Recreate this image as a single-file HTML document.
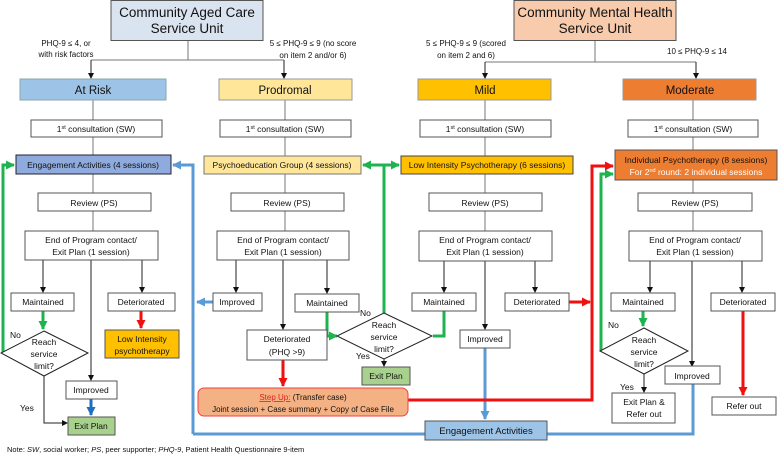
<!DOCTYPE html>
<html><head><meta charset="utf-8"><style>
html,body{margin:0;padding:0;background:#fff;width:778px;height:455px;overflow:hidden}
svg text{font-family:"Liberation Sans",sans-serif;fill:#111}
</style></head><body>
<svg width="778" height="455" viewBox="0 0 778 455" xmlns="http://www.w3.org/2000/svg">
<defs>
<marker id="ak" markerWidth="6" markerHeight="6" refX="5" refY="3" orient="auto" markerUnits="userSpaceOnUse"><path d="M0,0 L6,3 L0,6z" fill="#111"/></marker>
<marker id="ag" markerWidth="9" markerHeight="9" refX="8" refY="4.5" orient="auto" markerUnits="userSpaceOnUse"><path d="M0,0 L9,4.5 L0,9z" fill="#1db34f"/></marker>
<marker id="ar" markerWidth="9" markerHeight="9" refX="8" refY="4.5" orient="auto" markerUnits="userSpaceOnUse"><path d="M0,0 L9,4.5 L0,9z" fill="#f01010"/></marker>
<marker id="ab" markerWidth="9" markerHeight="9" refX="8" refY="4.5" orient="auto" markerUnits="userSpaceOnUse"><path d="M0,0 L9,4.5 L0,9z" fill="#5b9bd5"/></marker>
<marker id="ad" markerWidth="9" markerHeight="9" refX="8" refY="4.5" orient="auto" markerUnits="userSpaceOnUse"><path d="M0,0 L9,4.5 L0,9z" fill="#1f6fc0"/></marker>
</defs>

<g stroke="#777" stroke-width="1" fill="none">
<path d="M188,40 V60 M91,60 H284"/>
<path d="M595,40 V62 M485,62 H696"/>
<path d="M93,100 V120 M93,137 V156 M93,174 V193 M93,211 V231"/>
<path d="M285,100 V120 M285,137 V156 M285,174 V193 M285,211 V231"/>
<path d="M485,100 V120 M485,137 V156 M485,174 V193 M485,211 V231"/>
<path d="M693,100 V120 M693,137 V150 M693,180 V193 M693,211 V231"/>
</g>
<g stroke="#222" stroke-width="1" fill="none" marker-end="url(#ak)">
<path d="M91,60 V78"/><path d="M284,60 V78"/><path d="M485,62 V78"/><path d="M696,62 V78"/>
<path d="M43,260 V292"/><path d="M91,260 V380"/><path d="M142,260 V292"/>
<path d="M236,260 V292"/><path d="M283,260 V329"/><path d="M327,260 V293"/>
<path d="M444,260 V292"/><path d="M485,260 V329"/><path d="M535,260 V292"/>
<path d="M650,260 V292"/><path d="M692,260 V366"/><path d="M742,260 V292"/>
<path d="M44,376 V423 H67"/>
<path d="M384,359 V366"/>
<path d="M644,374 V392"/>
</g>

<g stroke="#5b9bd5" stroke-width="3" fill="none">
<path d="M193,434 V165 H173" marker-end="url(#ab)"/>
<path d="M213,302 H197" marker-end="url(#ab)"/>
<path d="M193,434 H425"/>
<path d="M547,434 H693 V383"/>
<path d="M485,348 V419" marker-end="url(#ab)"/>
</g>
<path d="M91,399 V415" stroke="#1f6fc0" stroke-width="3" fill="none" marker-end="url(#ad)"/>

<g stroke="#1db34f" stroke-width="3" fill="none">
<path d="M3,353 V165 H14" marker-end="url(#ag)"/>
<path d="M43,311 V329" marker-end="url(#ag)"/>
<path d="M384,313 V165 H363" marker-end="url(#ag)"/>
<path d="M384,165 H399" marker-end="url(#ag)"/>
<path d="M327,312 V336 H337" marker-end="url(#ag)"/>
<path d="M444,311 V336 H433"/>
<path d="M601,351 V174 H613" marker-end="url(#ag)"/>
<path d="M643,311 V326" marker-end="url(#ag)"/>
</g>

<g stroke="#f01010" stroke-width="3" fill="none">
<path d="M141,311 V328" marker-end="url(#ar)"/>
<path d="M283,360 V386" marker-end="url(#ar)"/>
<path d="M569,302 H590" marker-end="url(#ar)"/>
<path d="M408,400 H592 V166 H613" marker-end="url(#ar)"/>
<path d="M743,311 V395" marker-end="url(#ar)"/>
</g>

<g stroke="#555" stroke-width="1">
<rect x="111" y="0.5" width="152" height="40" fill="#dae3f0"/>
<rect x="514" y="0.5" width="162" height="40" fill="#f8cbad"/>
<rect x="20" y="79" width="146" height="21" fill="#9dc3e6" stroke="#8aa"/>
<rect x="219" y="79" width="133" height="21" fill="#ffe699" stroke="#999"/>
<rect x="418" y="79" width="133" height="21" fill="#ffc000" stroke="#999"/>
<rect x="623" y="79" width="133" height="21" fill="#ed7d31" stroke="#999"/>
<rect x="31" y="120" width="131" height="17" fill="#fff"/>
<rect x="220" y="120" width="131" height="17" fill="#fff"/>
<rect x="420" y="120" width="131" height="17" fill="#fff"/>
<rect x="628" y="120" width="130" height="17" fill="#fff"/>
<rect x="16" y="155" width="155" height="19" fill="#8faadc" stroke="#223"/>
<rect x="204" y="156" width="157" height="18" fill="#ffe699" stroke="#777"/>
<rect x="401" y="156" width="172" height="18" fill="#ffc000" stroke="#444"/>
<rect x="615" y="150" width="162" height="30" fill="#ed7d31" stroke="#555"/>
<rect x="38" y="193" width="113" height="18" fill="#fff"/>
<rect x="231" y="193" width="113" height="18" fill="#fff"/>
<rect x="429" y="193" width="113" height="18" fill="#fff"/>
<rect x="638" y="193" width="114" height="18" fill="#fff"/>
<rect x="25" y="231" width="133" height="29" fill="#fff"/>
<rect x="217" y="231" width="132" height="29" fill="#fff"/>
<rect x="419" y="231" width="133" height="30" fill="#fff"/>
<rect x="629" y="231" width="133" height="30" fill="#fff"/>
<rect x="11" y="293" width="63" height="18" fill="#fff"/>
<rect x="108" y="293" width="67" height="18" fill="#fff"/>
<rect x="213" y="293" width="49" height="18" fill="#fff"/>
<rect x="295" y="294" width="64" height="18" fill="#fff"/>
<rect x="412" y="293" width="64" height="18" fill="#fff"/>
<rect x="505" y="293" width="64" height="18" fill="#fff"/>
<rect x="611" y="293" width="64" height="18" fill="#fff"/>
<rect x="711" y="293" width="64" height="18" fill="#fff"/>
<rect x="105" y="330" width="74" height="28" fill="#ffc000"/>
<rect x="66" y="381" width="51" height="18" fill="#fff"/>
<rect x="68" y="417" width="47" height="18" fill="#a9d18e"/>
<rect x="247" y="330" width="80" height="30" fill="#fff"/>
<rect x="362" y="367" width="48" height="18" fill="#a9d18e"/>
<rect x="198" y="388" width="210" height="28" rx="6" fill="#f4b183" stroke="#f04040"/>
<rect x="460" y="330" width="50" height="18" fill="#fff"/>
<rect x="425" y="421" width="122" height="19" fill="#9dc3e6"/>
<rect x="665" y="366" width="55" height="18" fill="#fff"/>
<rect x="612" y="393" width="63" height="30" fill="#fff"/>
<rect x="712" y="397" width="64" height="18" fill="#fff"/>
<path d="M44,331 L88,353 L44,376 L1,353z" fill="#fff" stroke="#222"/>
<path d="M384,313 L432,336 L384,359 L337,336z" fill="#fff" stroke="#222"/>
<path d="M644,328 L688,351 L644,374 L600,351z" fill="#fff" stroke="#222"/>
</g>

<g text-anchor="middle" font-size="9">
<text x="187" y="17" font-size="13.5">Community Aged Care</text>
<text x="187" y="33" font-size="13.5">Service Unit</text>
<text x="595" y="17" font-size="13.5">Community Mental Health</text>
<text x="595" y="33" font-size="13.5">Service Unit</text>
<text x="66" y="46" font-size="8">PHQ-9 ≤ 4, or</text>
<text x="66" y="57" font-size="8">with risk factors</text>
<text x="313" y="46" font-size="8">5 ≤ PHQ-9 ≤ 9 (no score</text>
<text x="313" y="58" font-size="8">on item 2 and/or 6)</text>
<text x="466" y="46" font-size="8">5 ≤ PHQ-9 ≤ 9 (scored</text>
<text x="466" y="58" font-size="8">on item 2 and 6)</text>
<text x="697" y="54" font-size="8">10 ≤ PHQ-9 ≤ 14</text>
<text x="93" y="94" font-size="11.5">At Risk</text>
<text x="285" y="94" font-size="11.5">Prodromal</text>
<text x="485" y="94" font-size="11.5">Mild</text>
<text x="690" y="94" font-size="11.5">Moderate</text>
<text x="96" y="132" font-size="8.5">1<tspan font-size="5.5" dy="-3">st</tspan><tspan dy="3"> consultation (SW)</tspan></text>
<text x="285" y="132" font-size="8.5">1<tspan font-size="5.5" dy="-3">st</tspan><tspan dy="3"> consultation (SW)</tspan></text>
<text x="485" y="132" font-size="8.5">1<tspan font-size="5.5" dy="-3">st</tspan><tspan dy="3"> consultation (SW)</tspan></text>
<text x="693" y="132" font-size="8.5">1<tspan font-size="5.5" dy="-3">st</tspan><tspan dy="3"> consultation (SW)</tspan></text>
<text x="93" y="168" font-size="8.5">Engagement Activities (4 sessions)</text>
<text x="282" y="168" font-size="8.5">Psychoeducation Group (4 sessions)</text>
<text x="487" y="168" font-size="8.5">Low Intensity Psychotherapy (6 sessions)</text>
<text x="696" y="163" font-size="8.5">Individual Psychotherapy (8 sessions)</text>
<text x="696" y="175" font-size="8.5" style="fill:#fff">For 2<tspan font-size="5.5" dy="-3">nd</tspan><tspan dy="3"> round: 2 individual sessions</tspan></text>
<text x="94" y="206" font-size="8.5">Review (PS)</text>
<text x="287" y="206" font-size="8.5">Review (PS)</text>
<text x="485" y="206" font-size="8.5">Review (PS)</text>
<text x="695" y="206" font-size="8.5">Review (PS)</text>
<g font-size="8.5">
<text x="91" y="243">End of Program contact/</text><text x="91" y="255">Exit Plan (1 session)</text>
<text x="283" y="243">End of Program contact/</text><text x="283" y="255">Exit Plan (1 session)</text>
<text x="485" y="243">End of Program contact/</text><text x="485" y="255">Exit Plan (1 session)</text>
<text x="695" y="243">End of Program contact/</text><text x="695" y="255">Exit Plan (1 session)</text>
<text x="43" y="305">Maintained</text><text x="141" y="305">Deteriorated</text>
<text x="237" y="305">Improved</text><text x="327" y="306">Maintained</text>
<text x="444" y="305">Maintained</text><text x="537" y="305">Deteriorated</text>
<text x="643" y="305">Maintained</text><text x="743" y="305">Deteriorated</text>
<text x="142" y="342">Low Intensity</text><text x="142" y="354">psychotherapy</text>
<text x="44" y="345">Reach</text><text x="44" y="357">service</text><text x="44" y="369">limit?</text>
<text x="384" y="328">Reach</text><text x="384" y="340">service</text><text x="384" y="352">limit?</text>
<text x="644" y="343">Reach</text><text x="644" y="355">service</text><text x="644" y="367">limit?</text>
<text x="91" y="393">Improved</text>
<text x="91" y="429">Exit Plan</text>
<text x="287" y="342">Deteriorated</text><text x="287" y="355">(PHQ &gt;9)</text>
<text x="386" y="379">Exit Plan</text>
<text x="303" y="400" font-size="8"><tspan style="fill:#e02020;text-decoration:underline">Step Up:</tspan> (Transfer case)</text>
<text x="303" y="412" font-size="8">Joint session + Case summary + Copy of Case File</text>
<text x="485" y="342">Improved</text>
<text x="486" y="434" font-size="9.5">Engagement Activities</text>
<text x="692" y="379">Improved</text>
<text x="644" y="405">Exit Plan &amp;</text><text x="644" y="417">Refer out</text>
<text x="744" y="409">Refer out</text>
</g>
</g>
<g font-size="8.5">
<text x="10" y="338">No</text><text x="20" y="411">Yes</text>
<text x="360" y="316">No</text><text x="356" y="359">Yes</text>
<text x="608" y="328">No</text><text x="620" y="390">Yes</text>
<text x="7" y="452" font-size="7.5">Note: <tspan font-style="italic">SW</tspan>, social worker; <tspan font-style="italic">PS</tspan>, peer supporter; <tspan font-style="italic">PHQ-9</tspan>, Patient Health Questionnaire 9-item</text>
</g>
</svg>
</body></html>
